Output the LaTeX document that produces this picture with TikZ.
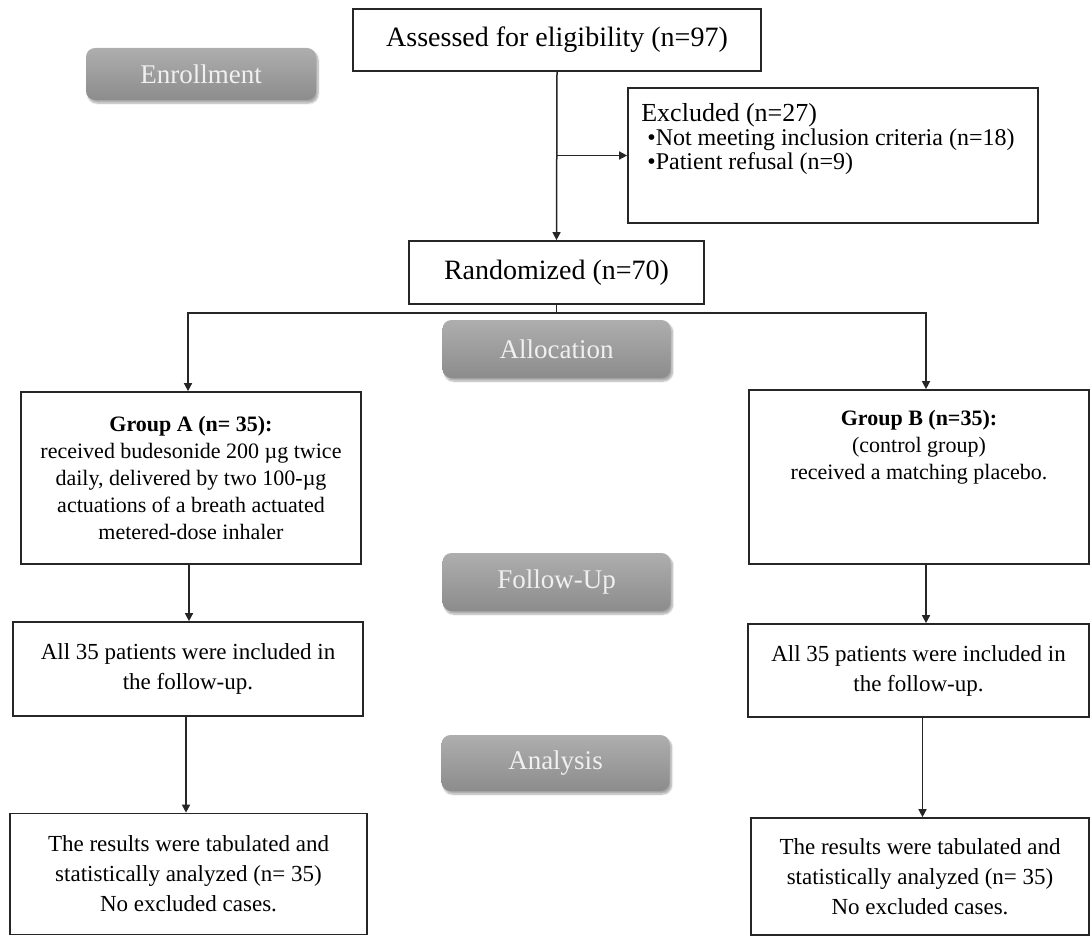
\documentclass[tikz,border=0pt]{standalone}
\usepackage{fontspec}
\setmainfont{Liberation Serif}
\usepackage{tikz}
\usetikzlibrary{positioning,arrows.meta,shadows.blur}
\definecolor{phasetop}{RGB}{174,174,174}
\definecolor{phasebot}{RGB}{140,140,140}

\begin{document}
\begin{tikzpicture}[x=1pt,y=-1pt,>={Triangle[length=8pt,width=8pt]},
  box/.style={draw=black!85,line width=1.7pt,align=center,inner sep=4pt},
  phase/.style={rounded corners=9pt,top color=phasetop,bottom color=phasebot,text=white!94!black,
    font=\fontsize{27}{30}\selectfont,minimum width=228pt,minimum height=58pt,
    blur shadow={shadow xshift=2pt,shadow yshift=-3pt,shadow opacity=35,shadow blur steps=8}},
  link/.style={line width=1.5pt,black!85}]
\useasboundingbox (0,0) rectangle (1091,936);
% enrollment
\node[box,minimum width=408pt,minimum height=62pt,font=\fontsize{28}{32}\selectfont] (assess) at (557,40) {Assessed for eligibility (n=97)};
\node[phase,minimum width=230pt,minimum height=52pt] (enroll) at (201,74) {Enrollment};
\node[box,minimum width=410pt,minimum height=135pt] (excl) at (833,155.5) {};
\node[below right=16pt and 14pt of excl.north west,align=left,inner sep=0pt,font=\fontsize{24}{24}\selectfont] (excltxt) {{\fontsize{26}{26}\selectfont Excluded (n=27)}\\ \hspace*{6pt}•Not meeting inclusion criteria (n=18)\\ \hspace*{6pt}•Patient refusal (n=9)};
\node[box,minimum width=295pt,minimum height=63pt,font=\fontsize{28}{32}\selectfont] (rand) at (556.5,272.5) {Randomized (n=70)};
% allocation
\node[phase] (alloc) at (556.5,349) {Allocation};
\node[box,minimum width=340pt,minimum height=172pt,font=\fontsize{22}{27}\selectfont] (groupA) at (191,478) {\textbf{Group A (n= 35):}\\ received budesonide 200 µg twice\\ daily, delivered by two 100-µg\\ actuations of a breath actuated\\ metered-dose inhaler};
\node[box,minimum width=340pt,minimum height=174pt] (groupB) at (919,477) {};
\node[below=18pt of groupB.north,align=center,font=\fontsize{22}{27}\selectfont] (groupBtxt) {\textbf{Group B (n=35):}\\ (control group)\\ received a matching placebo.};
% follow-up
\node[phase] (follow) at (556.5,582) {Follow-Up};
\node[box,minimum width=350pt,minimum height=94pt,font=\fontsize{23}{30}\selectfont] (fuA) at (188,669) {All 35 patients were included in\\ the follow-up.};
\node[box,minimum width=341pt,minimum height=93pt,font=\fontsize{23}{30}\selectfont] (fuB) at (918.5,670.5) {All 35 patients were included in\\ the follow-up.};
% analysis
\node[phase,minimum height=56pt] (analysis) at (555.5,763) {Analysis};
\node[box,minimum width=357pt,minimum height=121pt,font=\fontsize{23}{30}\selectfont] (resA) at (188.5,874) {The results were tabulated and\\ statistically analyzed (n= 35)\\ No excluded cases.};
\node[box,minimum width=338pt,minimum height=117pt,font=\fontsize{23}{30}\selectfont] (resB) at (920,876.5) {The results were tabulated and\\ statistically analyzed (n= 35)\\ No excluded cases.};
% connectors
\draw[link,->] (assess.south) -- (rand.north);
\draw[link,->] (assess.south |- excl.west) -- (excl.west);
\coordinate (split) at ([yshift=-8pt]rand.south);
\draw[link] (rand.south) -- (split);
\draw[link,->] (split) -| ([xshift=-3pt]groupA.north);
\draw[link,->] (split) -| ([xshift=7pt]groupB.north);
\draw[link,->] ([xshift=-2pt]groupA.south) -- ([xshift=-2pt]groupA.south |- fuA.north);
\draw[link,->] ([xshift=7pt]groupB.south) -- ([xshift=7pt]groupB.south |- fuB.north);
\draw[link,->] ([xshift=-2pt]fuA.south) -- ([xshift=-2pt]fuA.south |- resA.north);
\draw[link,->] ([xshift=4pt]fuB.south) -- ([xshift=4pt]fuB.south |- resB.north);
\end{tikzpicture}
\end{document}
